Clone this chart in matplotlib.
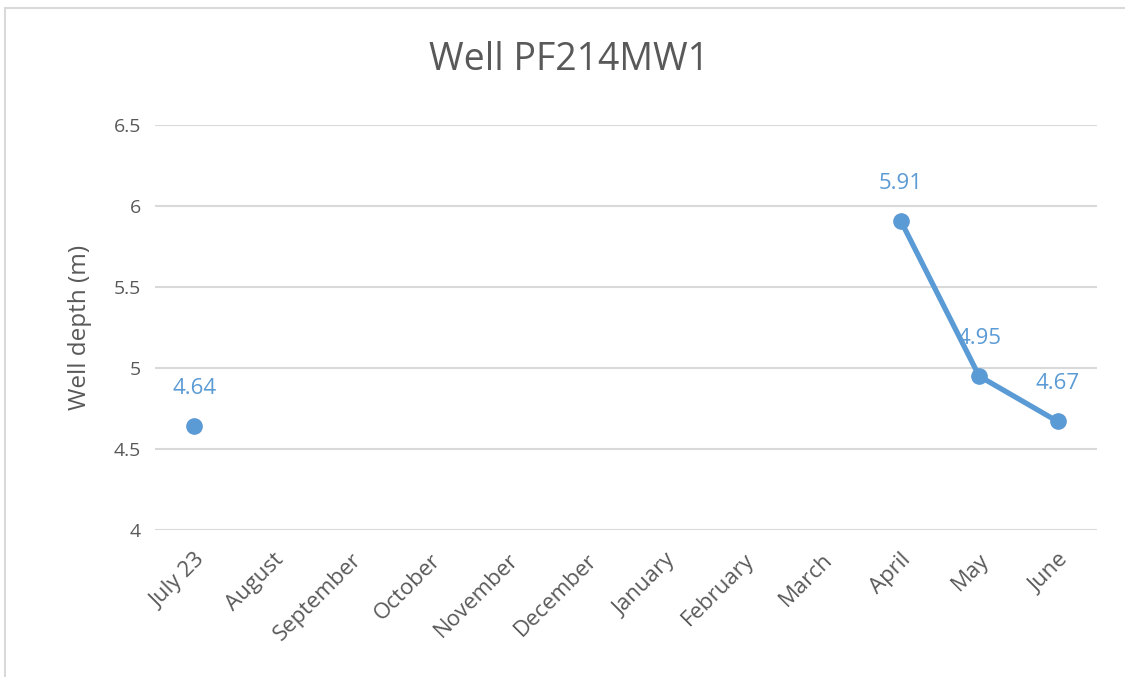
import matplotlib
matplotlib.use("Agg")
import matplotlib.pyplot as plt
from matplotlib.patches import Rectangle
import numpy as np

months = ["July 23", "August", "September", "October", "November", "December",
          "January", "February", "March", "April", "May", "June"]
depth = [4.64, np.nan, np.nan, np.nan, np.nan, np.nan,
         np.nan, np.nan, np.nan, 5.91, 4.95, 4.67]
yticks = [4, 4.5, 5, 5.5, 6, 6.5]

color = "#5B9BD5"
txt = "#595959"
plt.rcParams['font.family'] = ['Open Sans', 'DejaVu Sans']

fig = plt.figure(figsize=(11.25, 6.77), dpi=100)
ax = fig.add_axes([0.1378, 0.2171, 0.8372, 0.5983])

x = np.arange(len(months))
ax.plot(x, depth, color=color, lw=3.8, marker="o", ms=11, solid_capstyle="round")
for xi, v in zip(x, depth):
    if not np.isnan(v):
        ax.annotate(f"{v:.2f}", (xi, v), xytext=(0, 27), textcoords="offset points",
                    ha="center", va="center", color=color, fontsize=16)

ax.set_xlim(-0.5, len(months) - 0.5)
ax.set_ylim(4, 6.5)
ax.set_yticks(yticks)
ax.set_yticklabels([f"{t:g}" for t in yticks])
ax.set_xticks(x)
ax.set_xticklabels(months, rotation=45, ha="right", rotation_mode="anchor")
ax.tick_params(axis="both", length=0, colors=txt)
ax.tick_params(axis="y", pad=10, labelsize=14)
ax.tick_params(axis="x", pad=14, labelsize=16)
ax.grid(axis="y", color="#D9D9D9", lw=1.5)
ax.set_axisbelow(True)
for s in ax.spines.values():
    s.set_visible(False)
ax.set_ylabel("Well depth (m)", color=txt, fontsize=17.5, labelpad=16)
fig.text(0.506, 0.911, "Well PF214MW1", ha="center", va="center", color=txt, fontsize=27)

fig.patches.append(Rectangle((5/1125, -0.01), 1.02, 1 - 8/677 + 0.01, transform=fig.transFigure,
                             fill=False, edgecolor="#D9D9D9", lw=1.5))

fig.savefig("out.png", dpi=100)
